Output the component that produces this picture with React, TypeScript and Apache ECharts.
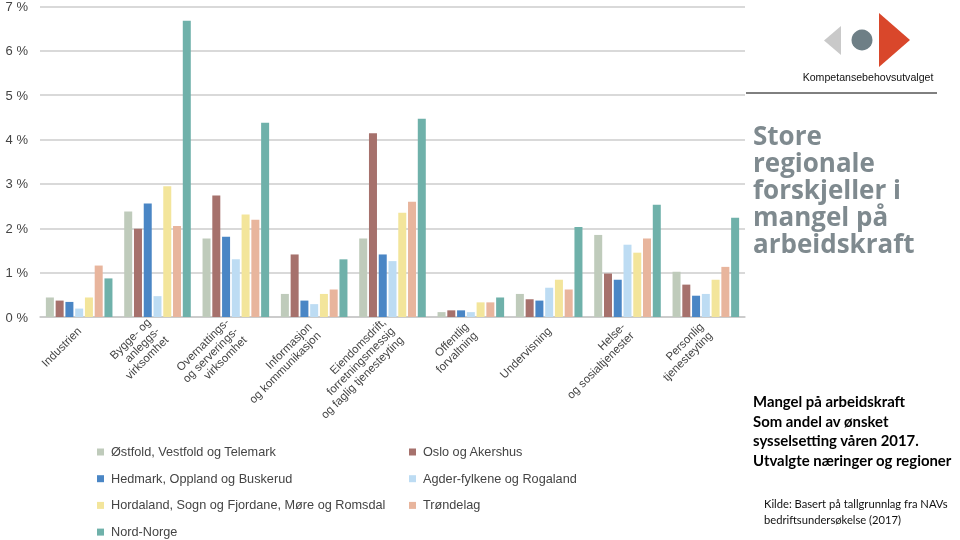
import React, { useEffect, useRef } from "react";
import * as echarts from "echarts";

const categories = [
  "Industrien",
  "Bygge- og\nanleggs-\nvirksomhet",
  "Overnattings-\nog serverings-\nvirksomhet",
  "Informasjon\nog kommunikasjon",
  "Eiendomsdrift,\nforretningsmessig\nog faglig tjenesteyting",
  "Offentlig\nforvaltning",
  "Undervisning",
  "Helse-\nog sosialtjenester",
  "Personlig\ntjenesteyting",
];

const seriesNames = [
  "Østfold, Vestfold og Telemark",
  "Oslo og Akershus",
  "Hedmark, Oppland og Buskerud",
  "Agder-fylkene og Rogaland",
  "Hordaland, Sogn og Fjordane, Møre og Romsdal",
  "Trøndelag",
  "Nord-Norge",
];

const ostfold = [0.44, 2.38, 1.77, 0.52, 1.77, 0.11, 0.52, 1.85, 1.02];
const oslo = [0.37, 1.99, 2.74, 1.41, 4.14, 0.15, 0.4, 0.98, 0.73];
const hedmark = [0.34, 2.56, 1.81, 0.37, 1.41, 0.15, 0.37, 0.84, 0.48];
const agder = [0.19, 0.47, 1.3, 0.29, 1.26, 0.11, 0.66, 1.63, 0.52];
const hordaland = [0.44, 2.95, 2.31, 0.52, 2.35, 0.33, 0.84, 1.45, 0.84];
const trondelag = [1.16, 2.05, 2.19, 0.62, 2.6, 0.33, 0.62, 1.77, 1.13];
const nordNorge = [0.87, 6.68, 4.38, 1.3, 4.47, 0.44, 2.03, 2.53, 2.24];

const seriesValues = [ostfold, oslo, hedmark, agder, hordaland, trondelag, nordNorge];
const seriesColors = ["#bfcbbb", "#a6716c", "#4a86c5", "#bddcf3", "#f3e59b", "#e8b59d", "#6fb1aa"];

const titleLines = ["Store", "regionale", "forskjeller i", "mangel på", "arbeidskraft"];
const subtitleLines = [
  "Mangel på arbeidskraft",
  "Som andel av ønsket",
  "sysselsetting våren 2017.",
  "Utvalgte næringer og regioner",
];
const sourceLines = ["Kilde: Basert på tallgrunnlag fra NAVs", "bedriftsundersøkelse (2017)"];
const logoText = "Kompetansebehovsutvalget";

export default function App() {
  const ref = useRef<HTMLDivElement>(null);
  useEffect(() => {
    if (!ref.current) return;
    const chart = echarts.init(ref.current, null, { renderer: "svg" });
    const legendText = { fontSize: 12.7, color: "#444", fontFamily: "Liberation Sans", lineHeight: 14, padding: [0, 0, 0, 2] };
    const titleScaleY = 1.05;
    const graphics: any[] = [
      { type: "polygon", shape: { points: [[841, 26], [841, 55], [824, 40.5]] }, style: { fill: "#c9c9c9" } },
      { type: "circle", shape: { cx: 862, cy: 40, r: 10.5 }, style: { fill: "#6e7f86" } },
      { type: "polygon", shape: { points: [[879, 13], [879, 67], [910, 40]] }, style: { fill: "#d9472b" } },
      {
        type: "text",
        style: { text: logoText, x: 868, y: 77, align: "center", verticalAlign: "middle", fontSize: 10.6, fontFamily: "Liberation Sans", fill: "#111" },
      },
      { type: "line", shape: { x1: 746, y1: 93, x2: 937, y2: 93 }, style: { stroke: "#000", lineWidth: 1 } },
      {
        type: "text",
        x: 753,
        y: 135 + 2 * 27,
        scaleY: titleScaleY,
        style: {
          text: titleLines.join("\n"),
          x: 0,
          y: 0,
          verticalAlign: "middle",
          lineHeight: 27 / titleScaleY,
          fontSize: 26,
          fontWeight: "bold",
          fontFamily: "Open Sans",
          fill: "#7f8a8f",
        },
      },
      {
        type: "text",
        style: {
          text: subtitleLines.join("\n"),
          x: 753,
          y: 401 + 1.5 * 19.6,
          verticalAlign: "middle",
          lineHeight: 19.6,
          fontSize: 14.9,
          fontWeight: "bold",
          fontFamily: "Lato",
          fill: "#000",
        },
      },
      {
        type: "text",
        style: {
          text: sourceLines.join("\n"),
          x: 764,
          y: 511,
          verticalAlign: "middle",
          lineHeight: 16,
          fontSize: 11.2,
          fontFamily: "Lato",
          fill: "#111",
        },
      },
    ];

    const legendBase = {
      orient: "vertical",
      top: 445,
      height: 120,
      padding: 0,
      itemGap: 12.7,
      itemWidth: 7,
      itemHeight: 7,
      icon: "rect",
      textStyle: legendText,
    };

    chart.setOption({
      animation: false,
      grid: { left: 40, right: 215, top: 5, bottom: 223, containLabel: false },
      xAxis: {
        type: "category",
        data: categories,
        axisLine: { lineStyle: { color: "#c8c8c8", width: 1.5 } },
        axisTick: { show: false },
        axisLabel: { rotate: 45, interval: 0, margin: 12, fontSize: 11.5, color: "#444", fontFamily: "Liberation Sans", lineHeight: 12.5 },
      },
      yAxis: {
        type: "value",
        min: 0,
        max: 7,
        interval: 1,
        axisLine: { show: false },
        axisTick: { show: false },
        splitLine: { lineStyle: { color: "#cdcdcd", width: 1.5 } },
        axisLabel: { formatter: (v: number) => `${v} %`, fontSize: 13, color: "#444", fontFamily: "Liberation Sans", margin: 12 },
      },
      legend: [
        { ...legendBase, data: [seriesNames[0], seriesNames[2], seriesNames[4], seriesNames[6]], left: 97 },
        { ...legendBase, data: [seriesNames[1], seriesNames[3], seriesNames[5]], left: 409 },
      ],
      series: seriesNames.map((name, i) => ({
        name,
        type: "bar",
        data: seriesValues[i],
        barGap: "22%",
        barCategoryGap: "15%",
        itemStyle: { color: seriesColors[i] },
      })),
      graphic: graphics,
    });
    return () => chart.dispose();
  }, []);
  return <div ref={ref} style={{ position: "fixed", left: 0, top: 0, width: 960, height: 540 }} />;
}
